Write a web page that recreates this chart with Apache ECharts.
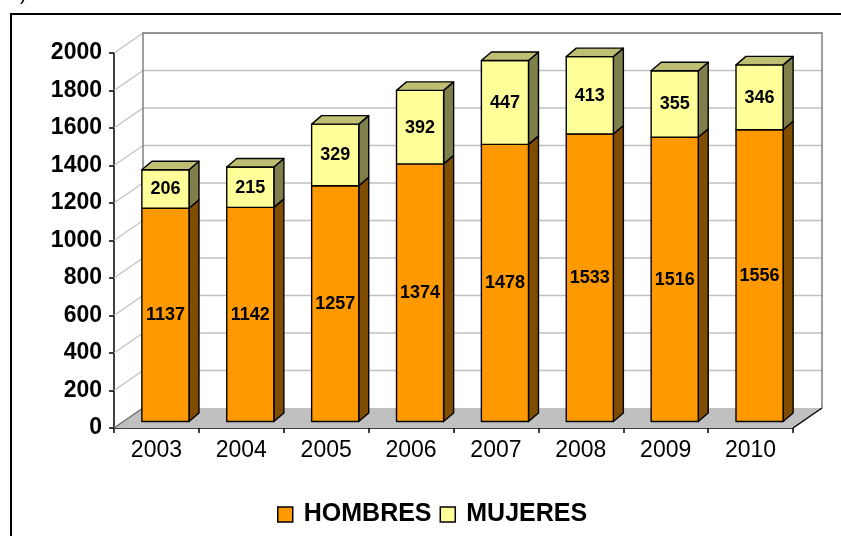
<!DOCTYPE html>
<html><head><meta charset="utf-8">
<script src="https://cdn.jsdelivr.net/npm/echarts@6/dist/echarts.min.js"></script>
<style>html,body{margin:0;padding:0;background:#fff}#c{width:841px;height:536px}</style>
</head><body><div id="c"></div>
<script>
const years = ['2003','2004','2005','2006','2007','2008','2009','2010'];
const hombres = [1137,1142,1257,1374,1478,1533,1516,1556];
const mujeres = [206,215,329,392,447,413,355,346];
const yTicks = [0,200,400,600,800,1000,1200,1400,1600,1800,2000];

const FONT = "'Liberation Sans', Arial, sans-serif";
const WALL = [29, -20];     // back wall offset
const FRONT = [9, -6.5];    // bar front plane offset
const DEPTH = [10, -8.5];   // bar depth
const BAR_FRAC = 0.555;

const colors = {
  HOMBRES: {front:'#FF9900', side:'#7F4C00', top:'#BF7300'},
  MUJERES: {front:'#FFFF99', side:'#7F7F4C', top:'#BFBF73'}
};

function barRender(name, isTop) {
  const c = colors[name];
  return function (params, api) {
    const i = api.value(0), lo = api.value(1), hi = api.value(2);
    const p0 = api.coord([i, lo]), p1 = api.coord([i, hi]);
    const w = api.size([1, 0])[0] * BAR_FRAC;
    const x0 = p0[0] - w / 2 + FRONT[0], x1 = x0 + w;
    const yb = p0[1] + FRONT[1], yt = p1[1] + FRONT[1];
    const dx = DEPTH[0], dy = DEPTH[1];
    const st = {stroke:'#000', lineWidth:1.4, lineJoin:'round'};
    const children = [
      {type:'polygon', shape:{points:[[x1,yb],[x1+dx,yb+dy],[x1+dx,yt+dy],[x1,yt]]},
       style:Object.assign({fill:c.side}, st)},
      {type:'rect', shape:{x:x0, y:yt, width:w, height:yb-yt},
       style:Object.assign({fill:c.front}, st)}
    ];
    if (isTop) {
      children.push({type:'polygon', shape:{points:[[x0,yt],[x0+dx,yt+dy],[x1+dx,yt+dy],[x1,yt]]},
        style:Object.assign({fill:c.top}, st)});
    }
    children.push({type:'text', style:{text:String(Math.round(hi - lo)), x:(x0+x1)/2, y:(yt+yb)/2 + 0.5,
      align:'center', verticalAlign:'middle', fill:'#000', font:'bold 18px ' + FONT}});
    return {type:'group', children};
  };
}

function wallRender(params, api) {
  const cs = params.coordSys;
  const xl = cs.x, xr = cs.x + cs.width;
  const y0 = api.coord([0, 0])[1];
  const ch = [];
  ch.push({type:'polygon', shape:{points:[[xl,y0],[xr,y0],[xr+WALL[0],y0+WALL[1]],[xl+WALL[0],y0+WALL[1]]]},
    style:{fill:'#C0C0C0', stroke:null}});
  yTicks.forEach(v => {
    const yf = api.coord([0, v])[1];
    const yb = yf + WALL[1];
    ch.push({type:'line', shape:{x1:xl, y1:yf, x2:xl+WALL[0], y2:yb}, style:{stroke:'#C0C0C0', lineWidth:1.2}});
    if (v > 0) ch.push({type:'line', shape:{x1:xl+WALL[0], y1:yb, x2:xr+WALL[0], y2:yb}, style:{stroke:'#C0C0C0', lineWidth:1.5}});
  });
  const yTopB = api.coord([0, 2000])[1] + WALL[1];
  ch.push({type:'polyline', shape:{points:[[xl+WALL[0], y0+WALL[1]],[xl+WALL[0], yTopB],[xr+WALL[0], yTopB],[xr+WALL[0], y0+WALL[1]]]},
    style:{stroke:'#808080', lineWidth:1.5, fill:null}});
  ch.push({type:'line', shape:{x1:xl, y1:y0, x2:xl+WALL[0], y2:y0+WALL[1]}, style:{stroke:'#707070', lineWidth:1.3}});
  ch.push({type:'line', shape:{x1:xr, y1:y0, x2:xr+WALL[0], y2:y0+WALL[1]}, style:{stroke:'#000', lineWidth:1.5}});
  return {type:'group', children:ch};
}

const chart = echarts.init(document.getElementById('c'), null, {renderer:'canvas'});
chart.setOption({
  backgroundColor:'#fff',
  animation:false,
  grid:{left:114, top:53, width:679, height:375},
  xAxis:{type:'category', data:years,
    axisLine:{lineStyle:{color:'#000', width:1.5}},
    axisTick:{show:true, length:5, lineStyle:{color:'#000', width:1.5}},
    axisLabel:{color:'#000', fontFamily:FONT, fontSize:23, margin:11},
    splitLine:{show:false}},
  yAxis:{type:'value', min:0, max:2000, interval:200,
    axisLine:{show:true, lineStyle:{color:'#000', width:1.5}},
    axisTick:{show:true, length:5, lineStyle:{color:'#000', width:1.5}},
    axisLabel:{color:'#000', fontFamily:FONT, fontSize:23, fontWeight:'bold', margin:12,
      formatter:v => String(v)},
    splitLine:{show:false}},
  legend:{left:277, top:502, padding:0, itemWidth:15, itemHeight:15, itemGap:8,
    textStyle:{fontFamily:FONT, fontSize:25, fontWeight:'bold', color:'#000', padding:[0,0,0,6]},
    data:[
      {name:'HOMBRES', icon:'rect', itemStyle:{color:'#FF9900', borderColor:'#000', borderWidth:1.5}},
      {name:'MUJERES', icon:'rect', itemStyle:{color:'#FFFF99', borderColor:'#000', borderWidth:1.5}}
    ]},
  graphic:[
    {type:'rect', shape:{x:11, y:14, width:1000, height:1000}, style:{fill:null, stroke:'#000', lineWidth:2}, z:100},
    {type:'text', x:20, y:-16, style:{text:')', font:'20px ' + FONT, fill:'#000'}}
  ],
  series:[
    {type:'custom', name:'wall', renderItem:wallRender, data:[[0,0]], encode:{x:0,y:1}, z:1, silent:true},
    {type:'custom', name:'HOMBRES', renderItem:barRender('HOMBRES', false),
      itemStyle:{color:'#FF9900'},
      data:hombres.map((v,i)=>[i, 0, v]), encode:{x:0, y:[1,2]}, z:3},
    {type:'custom', name:'MUJERES', renderItem:barRender('MUJERES', true),
      itemStyle:{color:'#FFFF99'},
      data:mujeres.map((v,i)=>[i, hombres[i], hombres[i]+v]), encode:{x:0, y:[1,2]}, z:4}
  ]
});
</script></body></html>
